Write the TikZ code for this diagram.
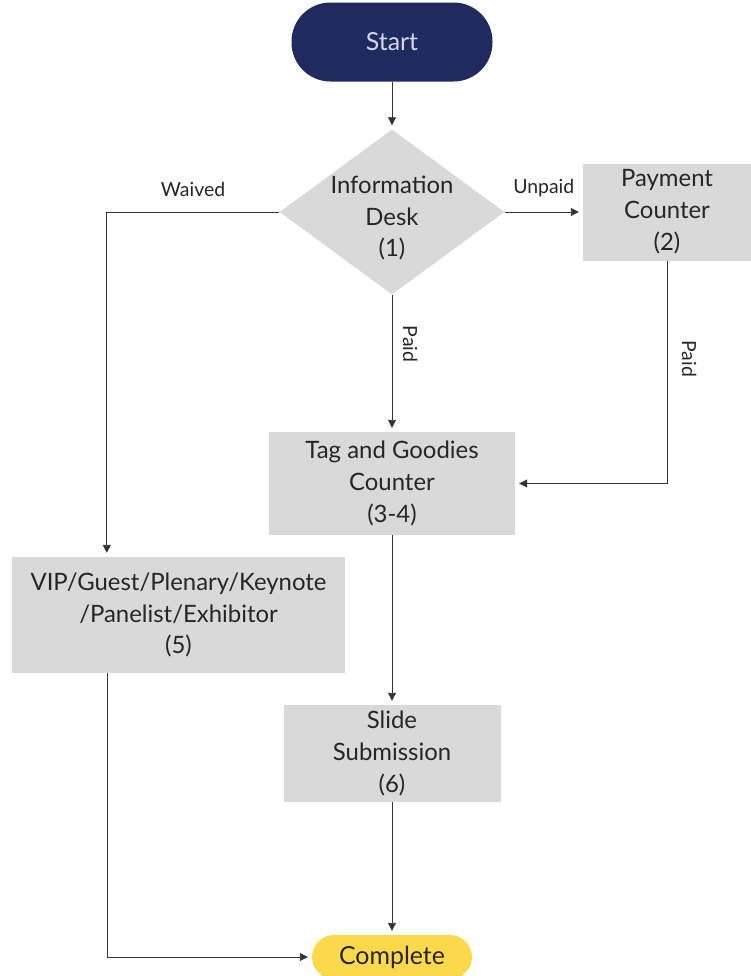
\documentclass[tikz,border=0pt]{standalone}
\usepackage{fontspec}
\setmainfont{Lato}
\usetikzlibrary{shapes.geometric}
\usetikzlibrary{arrows.meta}
\definecolor{navy}{HTML}{1F2A5E}
\definecolor{startfg}{HTML}{D3D8F0}
\definecolor{boxgray}{HTML}{D9D9D9}
\definecolor{gold}{HTML}{FCD84C}
\definecolor{ink}{HTML}{262626}

\begin{document}
\begin{tikzpicture}[x=1bp,y=-1bp] %% pixel units, y downwards
	\tikzstyle{pill}=[rectangle,inner sep=0pt,font=\fontsize{25}{30}\selectfont];
	\tikzstyle{station}=[rectangle,fill=boxgray,text=ink,inner sep=0pt,align=center,font=\fontsize{24}{32}\selectfont];
	\tikzstyle{decision}=[diamond,fill=boxgray,inner sep=0pt,minimum width=225bp,minimum height=165bp];
	\tikzstyle{caption}=[inner sep=0pt,text=ink,align=center,font=\fontsize{24}{32}\selectfont];
	\tikzstyle{flow}=[draw=black!80,line width=0.9bp,-{Triangle[length=8bp,width=8bp]},shorten >=4bp];
	\tikzstyle{lbl}=[inner sep=2bp,text=ink,font=\fontsize{19.5}{22}\selectfont];
	\useasboundingbox (0,0) rectangle (751,976);
	%% terminals
	\node[pill,fill=navy,text=startfg,minimum width=201bp,minimum height=79bp,rounded corners=39bp] (start) at (392,42) {Start};
	\node[pill,fill=gold,text=ink,minimum width=160bp,minimum height=44bp,rounded corners=22bp] (done) at (392,957) {Complete};
	%% information desk
	\node[decision] (desk) at (392,212) {};
	\node[caption] (desktext) at (392,218) {Information\\Desk\\(1)};
	%% counters
	\node[station,minimum width=168bp,minimum height=97bp] (pay) at (667,212) {Payment\\Counter\\(2)};
	\node[station,minimum width=246bp,minimum height=103bp] (goodies) at (392,483.5) {Tag and Goodies\\Counter\\(3-4)};
	\node[station,minimum width=333bp,minimum height=116bp] (vip) at (178.5,615) {VIP/Guest/Plenary/Keynote\\/Panelist/Exhibitor\\(5)};
	\node[station,minimum width=217bp,minimum height=97bp] (slide) at (392,753.5) {Slide\\Submission\\(6)};
	%% side entry points of the VIP box
	\coordinate (vipin) at ([xshift=95bp]vip.north west);
	\coordinate (vipout) at ([xshift=96bp]vip.south west);
	%% connectors
	\draw[flow] (start) -- (desk);
	\draw[flow] (desk.west) -| node[lbl,above,pos=0.25,yshift=13bp]{Waived} (vipin);
	\draw[flow] (desk.east) -- node[lbl,above,yshift=13bp]{Unpaid} (pay.west);
	\draw[flow] (desk) -- node[lbl,rotate=-90,anchor=south,outer sep=9bp,pos=0.36]{Paid} (goodies);
	\draw[flow] (pay.south) |- node[lbl,rotate=-90,anchor=south,outer sep=13bp,pos=0.22]{Paid} (goodies.east);
	\draw[flow] (goodies) -- (slide);
	\draw[flow] (slide) -- (done);
	\draw[flow] (vipout) |- (done.west);
\end{tikzpicture}
\end{document}
